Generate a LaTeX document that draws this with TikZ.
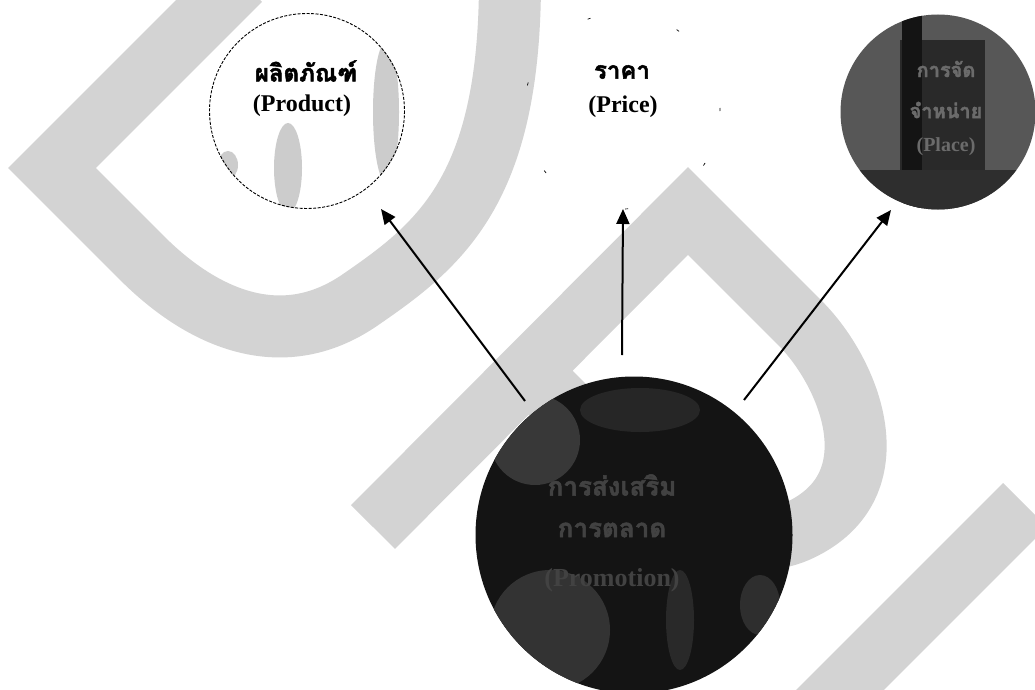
\documentclass[tikz,border=0pt]{standalone}
\usepackage{fontspec}
\setmainfont{Liberation Serif}
\newfontfamily\thai[Script=Thai,FakeBold=2]{Loma}
\usetikzlibrary{shapes.geometric,arrows.meta}
\definecolor{wm}{RGB}{211,211,211}
\begin{document}
\begin{tikzpicture}[x=1pt,y=-1pt,
  band/.style={draw=wm,line width=62pt,line cap=butt,line join=miter},
  arr/.style={-{Triangle[length=15pt,width=13pt]},line width=2pt,draw=black},
  ball/.style={circle,inner sep=0pt},
  tx/.style={font=\bfseries\fontsize{24}{28}\selectfont,inner sep=0pt},
  ftx/.style={font=\bfseries\fontsize{20}{24}\selectfont,inner sep=0pt},
  btx/.style={font=\bfseries\fontsize{26}{30}\selectfont,inner sep=0pt}]
\clip (0,0) rectangle (1035,690);
\fill[white] (0,0) rectangle (1035,690);
% watermark bands
\draw[band] (240,-20) -- (52,168) -- (142,258) .. controls (200,316) and (280,355) .. (360,300) .. controls (440,245) and (510,190) .. (510,-20);
\draw[band] (373,527) -- (688,211) -- (800,323) .. controls (850,373) and (895,485) .. (800,530) .. controls (760,549) and (700,542) .. (640,482) -- (529,371);
\draw[band] (1025,505) -- (790,740);
% product circle
\node[ball,minimum size=196pt,fill=white] (prod) at (307,111) {};
\begin{scope}
  \clip (307,111) circle[radius=98];
  \fill[black!20] (386,112) ellipse[x radius=13,y radius=70];
  \fill[black!20] (288,168) ellipse[x radius=14,y radius=45];
  \fill[black!20] (228,165) ellipse[x radius=10,y radius=14];
\end{scope}
\draw[line width=0.9pt,dash pattern=on 3pt off 1.5pt] (prod.center) circle[radius=97.5];
% price circle (almost invisible border)
\node[ball,minimum size=196pt,draw,line width=0.7pt,dash pattern=on 3pt off 90pt] (price) at (622,111) {};
% place circle
\node[ball,minimum size=195pt,fill=black!66] (place) at (938,112) {};
\begin{scope}
  \clip (938,112) circle[radius=97.5];
  \fill[black!84] (900,40) rectangle (985,170);
  \fill[black!92] (902,13) rectangle (922,215);
  \fill[black!82] (840,170) rectangle (1040,215);
\end{scope}
% promotion circle
\node[ball,minimum size=317pt,fill=black!92] (promo) at (634,535) {};
\begin{scope}
  \clip (634,535) circle[radius=158.5];
  \fill[black!78] (535,440) ellipse[x radius=45,y radius=45];
  \fill[black!80] (550,630) ellipse[x radius=60,y radius=60];
  \fill[black!84] (680,620) ellipse[x radius=14,y radius=50];
  \fill[black!82] (760,605) ellipse[x radius=20,y radius=30];
  \fill[black!85] (640,410) ellipse[x radius=60,y radius=22];
\end{scope}
% arrows
\coordinate (a1s) at (525,401); \coordinate (a1e) at (381,209);
\coordinate (a2s) at (622,355); \coordinate (a2e) at (623,209);
\coordinate (a3s) at (744,400); \coordinate (a3e) at (891,210);
\draw[arr] (a1s) -- (a1e);
\draw[arr] (a2s) -- (a2e);
\draw[arr] (a3s) -- (a3e);
% texts
\node[tx] (prodth) at (306,71) {\thai ผลิตภัณฑ์};
\node[tx] (proden) at (302,106) {(Product)};
\node[tx] (priceth) at (622,72) {\thai ราคา};
\node[tx] (priceen) at (623,107) {(Price)};
\node[ftx,text=black!58] (placeth1) at (946,69) {\thai การจัด};
\node[ftx,text=black!58] (placeth2) at (946,110) {\thai จำหน่าย};
\node[ftx,text=black!58] (placeen) at (946,147) {(Place)};
\node[btx,text=black!74] (promoth1) at (612,485) {\thai การส่งเสริม};
\node[btx,text=black!74] (promoth2) at (612,530) {\thai การตลาด};
\node[btx,text=black!74] (promoen) at (612,580) {(Promotion)};
\end{tikzpicture}
\end{document}
